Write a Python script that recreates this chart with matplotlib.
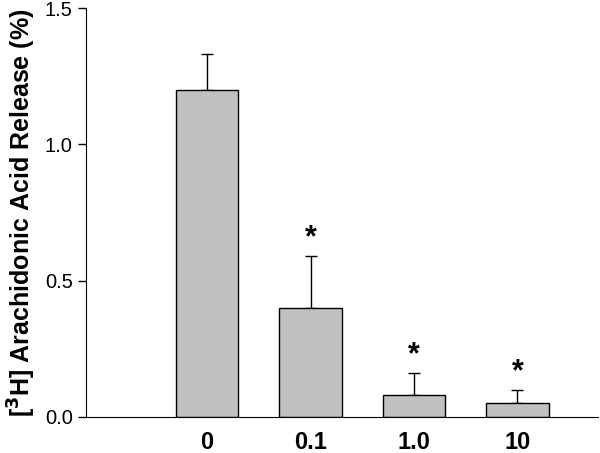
import numpy as np
import matplotlib
matplotlib.use("Agg")
import matplotlib.pyplot as plt

doses = ["0", "0.1", "1.0", "10"]
release = [1.20, 0.40, 0.08, 0.05]
sem = [0.13, 0.19, 0.08, 0.05]
signif = [False, True, True, True]

plt.rcParams['font.family'] = ['Liberation Sans', 'DejaVu Sans']

fig = plt.figure(figsize=(6, 4.53), dpi=100)
ax = fig.add_axes([0.1433, 0.0795, 0.8537, 0.9028])

x = np.arange(len(doses))
ax.bar(x, release, width=0.6, color='#c0c0c0', edgecolor='black', linewidth=1.0, zorder=2)
ax.errorbar(x, release, yerr=[np.zeros(len(sem)), sem], fmt='none', ecolor='black',
            elinewidth=1.0, capsize=4.5, capthick=1.0, zorder=1)

# significance stars
for xi, v, e, s in zip(x, release, sem, signif):
    if s:
        ax.annotate('*', (xi, v + e), xytext=(0, 2), textcoords='offset points',
                    ha='center', va='bottom', fontsize=22, fontweight='bold')

ax.set_xlim(-1.17, 3.78)
ax.set_ylim(0, 1.5)
ax.set_yticks([0.0, 0.5, 1.0, 1.5])
ax.set_yticklabels(['0.0', '0.5', '1.0', '1.5'], fontsize=14.5)
ax.set_xticks(x)
ax.set_xticklabels(doses, fontsize=17, fontweight='bold')
ax.tick_params(axis='x', length=0, pad=10)
ax.tick_params(axis='y', direction='out', length=6, width=1)
ax.spines['top'].set_visible(False)
ax.spines['right'].set_visible(False)
ax.set_ylabel(r'[$^{\mathbf{3}}$H] Arachidonic Acid Release (%)', fontsize=18, fontweight='bold', labelpad=5)

fig.savefig('out.png', dpi=100)
